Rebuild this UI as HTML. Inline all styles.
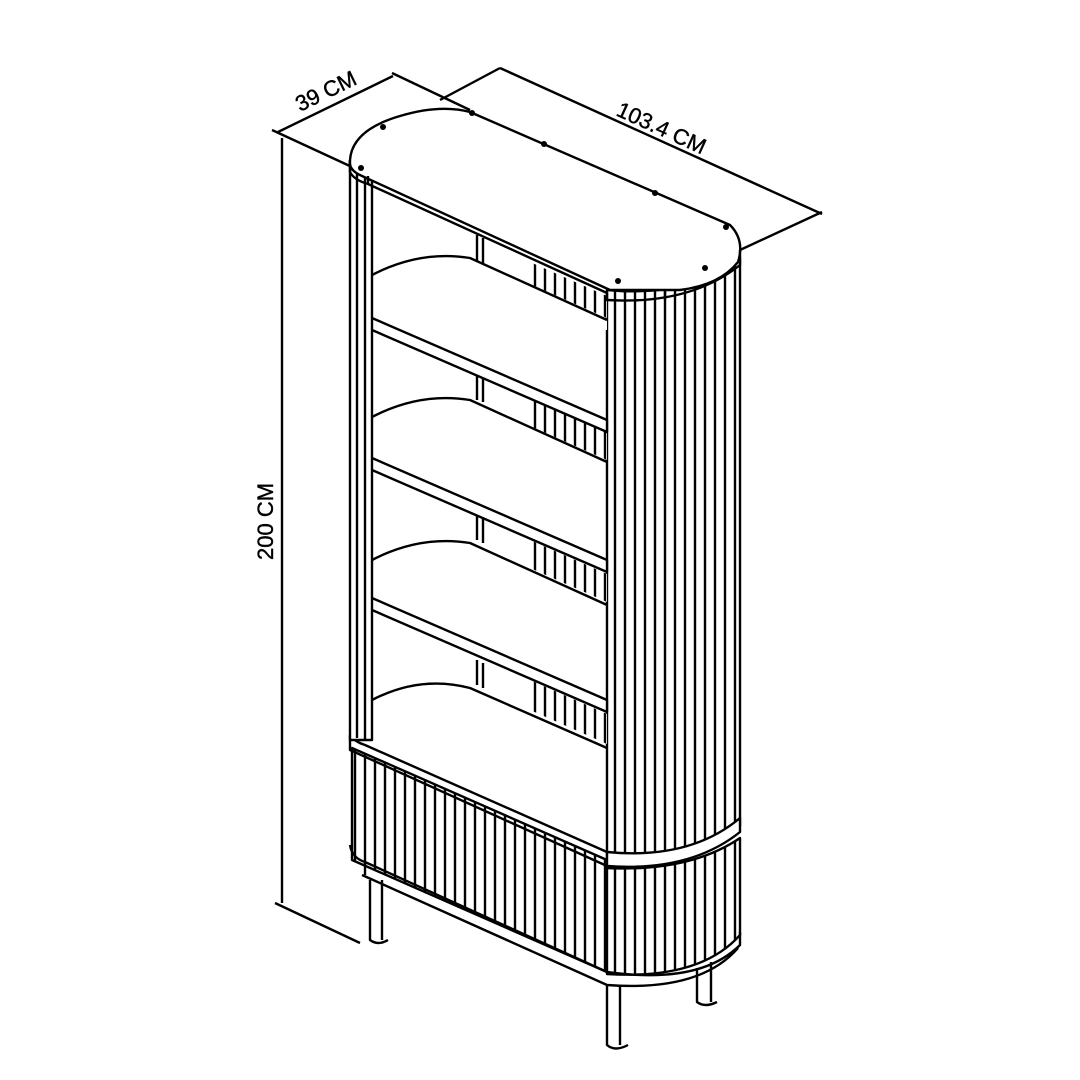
<!DOCTYPE html>
<html><head><meta charset="utf-8"><style>html,body{margin:0;padding:0;background:#fff}svg{display:block}</style></head>
<body>
<svg width="1080" height="1080" viewBox="0 0 1080 1080" xmlns="http://www.w3.org/2000/svg">
<defs>
<pattern id="fl" x="0" y="0" width="10" height="20" patternUnits="userSpaceOnUse">
<rect width="10" height="20" fill="#fff"/><line x1="5" y1="0" x2="5" y2="20" stroke="#000" stroke-width="2.4"/></pattern>
</defs>
<g fill="none" stroke="#000" stroke-width="2.4" stroke-linejoin="round">
<!-- dimension lines -->
<line x1="278" y1="132" x2="393" y2="76"/>
<line x1="272" y1="130" x2="352" y2="167"/>
<line x1="392" y1="73" x2="470" y2="110"/>
<line x1="440" y1="100" x2="500" y2="68"/>
<line x1="500" y1="68" x2="822" y2="214"/>
<line x1="740" y1="250" x2="822" y2="212"/>
<line x1="282" y1="138" x2="282" y2="903"/>
<line x1="275" y1="903" x2="360" y2="943"/>
<!-- right fluted panel -->
<path d="M607,290 Q690,298 740,258 L740,826 Q690,862 607,857 Z" fill="url(#fl)"/>
<!-- lower fluted cabinet front -->
<path d="M352,748 L607,860 L607,972 L352,860 Z" fill="url(#fl)"/>
<path d="M607,868 Q690,872 740,838 L740,935 Q700,980 607,974 Z" fill="url(#fl)"/>
<!-- band -->
<path d="M607,852 Q690,860 740,818 L740,832 Q690,872 607,866 Z" fill="#fff"/>
<path d="M350,735 L350,750 L607,866 M350,735 Q355,742 365,745 L607,852" />
<path d="M350,845 Q352,858 365,862 L607,972 Q700,985 740,945 L740,932"/>
<line x1="365" y1="862" x2="365" y2="875"/>
<path d="M362,875 L607,985 Q700,992 738,948"/>
<!-- back fluted strips -->
<path d="M530,262 L607,296 L607,318 L530,284 Z" fill="url(#fl)" stroke="none"/>
<path d="M530,398 L607,432 L607,460 L530,426 Z" fill="url(#fl)" stroke="none"/>
<path d="M530,540 L607,574 L607,602 L530,568 Z" fill="url(#fl)" stroke="none"/>
<path d="M530,680 L607,714 L607,744 L530,710 Z" fill="url(#fl)" stroke="none"/>
<line x1="477" y1="235" x2="477" y2="262"/><line x1="483" y1="238" x2="483" y2="265"/>
<line x1="477" y1="372" x2="477" y2="400"/><line x1="483" y1="375" x2="483" y2="402"/>
<line x1="477" y1="515" x2="477" y2="540"/><line x1="483" y1="518" x2="483" y2="543"/>
<line x1="477" y1="660" x2="477" y2="685"/><line x1="483" y1="663" x2="483" y2="688"/>
<!-- shelves -->
<g fill="#fff">
<path d="M372,275 Q420,250 470,258 L607,320 L607,330 L372,327 Z" stroke="none"/>
<path d="M372,275 Q420,250 470,258 L607,320"/>
<path d="M372,318 L607,420 L607,432 L372,330"/>
<path d="M372,417 Q420,392 470,400 L607,462"/>
<path d="M372,458 L607,560 L607,572 L372,470"/>
<path d="M372,560 Q420,535 470,543 L607,605"/>
<path d="M372,598 L607,700 L607,712 L372,610"/>
<path d="M372,700 Q420,675 470,688 L607,748"/>
</g>
<!-- left posts -->
<rect x="350" y="165" width="22" height="575" fill="#fff"/>
<line x1="357" y1="168" x2="357" y2="738"/><line x1="365" y1="172" x2="365" y2="740"/>
<!-- top -->
<path d="M350,160 Q352,130 400,116 Q440,104 470,112 L730,225 Q745,240 738,262 Q720,285 680,290 L610,290 L362,176 Q348,170 350,160 Z" fill="#fff"/>
<path d="M350,160 L350,172 Q354,180 368,184 L607,293 L607,300 Q690,305 740,265 L740,250"/>
<line x1="368" y1="176" x2="368" y2="184"/><line x1="665" y1="290" x2="665" y2="300"/>
<!-- legs -->
<path d="M370,880 L370,940 Q378,946 388,940 M382,880 L382,940"/>
<path d="M607,985 L607,1045 Q615,1052 628,1045 M620,985 L620,1045"/>
<path d="M697,968 L697,1002 Q705,1008 717,1002 M711,962 L711,1002"/>
</g>
<g fill="#000">
<circle cx="383" cy="127" r="3"/><circle cx="472" cy="113" r="3"/><circle cx="544" cy="144" r="3"/>
<circle cx="655" cy="193" r="3"/><circle cx="726" cy="227" r="3"/><circle cx="705" cy="268" r="3"/>
<circle cx="618" cy="281" r="3"/><circle cx="361" cy="168" r="3"/>
</g>
<g font-family="Liberation Sans, sans-serif" font-size="22" fill="#000" stroke="#000" stroke-width="0.4">
<text transform="translate(300,112) rotate(-26)">39 CM</text>
<text transform="translate(615,115) rotate(24.5)">103.4 CM</text>
<text transform="translate(273,560) rotate(-90)">200 CM</text>
</g>
</svg>
</body></html>
